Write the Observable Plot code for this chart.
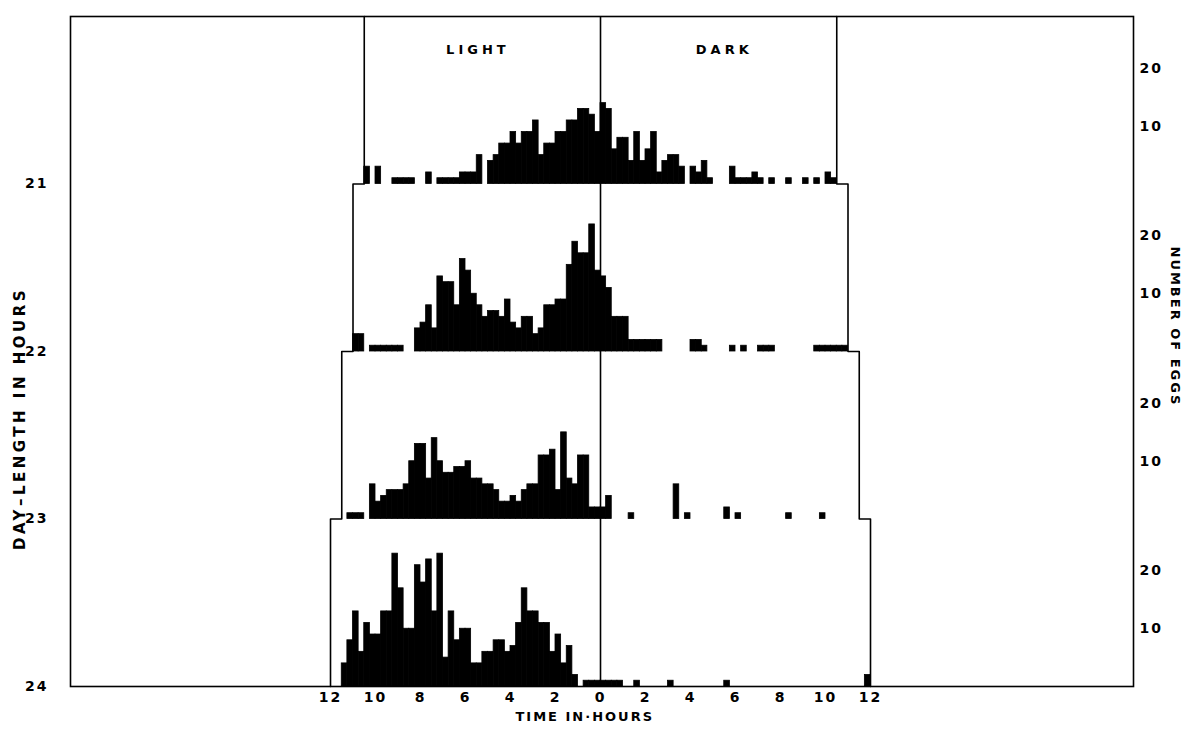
<!DOCTYPE html>
<html>
<head>
<meta charset="utf-8">
<script src="https://cdn.jsdelivr.net/npm/d3@7"></script>
<script src="https://cdn.jsdelivr.net/npm/@observablehq/plot@0.6"></script>
<style>
  html, body { margin: 0; padding: 0; background: #fff; }
  #chart svg { display: block; }
</style>
</head>
<body>
<div id="chart"></div>
<script>
// Day lengths (hours) of the four light–dark cycles; one histogram per cycle
const dayLengths = [21, 22, 23, 24];

// Eggs laid per 15-minute interval, from 12 h before lights-off (index 0)
// to 12 h after lights-off (index 95)
const eggs21 = [
  0,0,0,0,0,0,  3,0,3,0,0,1,  1,1,1,0,0,2,  0,1,1,1,1,2,
  2,2,5,0,4,5,  7,7,9,7,9,9,  11,5,7,7,9,9,  11,11,13,13,12,9,
  14,13,6,8,8,4,  9,4,6,9,2,4,  5,5,3,0,3,2,  4,1,0,0,0,3,
  1,1,1,2,1,0,  1,0,0,1,0,0,  1,0,1,0,2,1,  0,0,0,0,0,0
];
const eggs22 = [
  0,0,0,0,3,3,  0,1,1,1,1,1,  1,0,0,4,5,8,  4,13,12,12,8,16,
  14,10,8,6,7,7,  6,9,5,4,6,6,  3,4,8,8,9,9,  15,19,17,17,22,14,
  13,11,6,6,6,2,  2,2,2,2,2,0,  0,0,0,0,2,2,  1,0,0,0,0,1,
  0,1,0,0,1,1,  1,0,0,0,0,0,  0,0,1,1,1,1,  1,1,0,0,0,0
];
const eggs23 = [
  0,0,0,1,1,1,  0,6,3,4,5,5,  5,6,10,13,13,7,  14,10,8,8,9,9,
  10,7,7,6,6,5,  3,3,4,3,5,6,  6,11,11,12,5,15,  7,6,11,11,2,2,
  2,4,0,0,0,1,  0,0,0,0,0,0,  0,6,0,1,0,0,  0,0,0,0,2,0,
  1,0,0,0,0,0,  0,0,0,1,0,0,  0,0,0,1,0,0,  0,0,0,0,0,0
];
const eggs24 = [
  0,0,4,8,13,6,  11,9,9,13,13,23,  17,10,10,21,18,22,  13,23,5,13,8,10,
  10,4,4,6,6,8,  8,6,7,11,17,13,  13,11,11,6,9,4,  7,2,0,1,1,1,
  1,1,1,1,0,0,  1,0,0,0,0,0,  1,0,0,0,0,0,  0,0,0,0,1,0,
  0,0,0,0,0,0,  0,0,0,0,0,0,  0,0,0,0,0,0,  0,0,0,0,0,2
];

const startHour = -12;          // first interval starts 12 h before lights-off
const binHours = 0.25;          // 15-minute intervals
const eggUnit = 1 / 29;         // share of one panel's height taken by one egg
const eggTicks = [10, 20];      // number-of-eggs labels on the right
const hourTicks = [-12, -10, -8, -6, -4, -2, 0, 2, 4, 6, 8, 10, 12];

const series = [eggs21, eggs22, eggs23, eggs24];

// One rectangle per non-empty interval, standing on its day-length baseline
const bins = dayLengths.flatMap((day, k) =>
  series[k]
    .map((eggs, i) => ({
      day,
      t0: startHour + i * binHours,
      t1: startHour + (i + 1) * binHours,
      eggs
    }))
    .filter(d => d.eggs > 0)
);

// Staircase outline: light starts at -day/2 and dark ends at +day/2
const stairs = ["light", "dark"].flatMap(side =>
  dayLengths.flatMap(day => {
    const x = (side === "light" ? -1 : 1) * day / 2;
    return [{side, x, y: day - 1}, {side, x, y: day}];
  })
);

const eggLabels = dayLengths.flatMap(day => eggTicks.map(e => ({day, e})));

const font = "'DejaVu Sans', sans-serif";

const chart = Plot.plot({
  width: 1189,
  height: 732,
  marginLeft: 70,
  marginRight: 56,
  marginTop: 16,
  marginBottom: 46,
  x: {domain: [-23.556, 23.689]},
  y: {domain: [20, 24], reverse: true},
  style: {
    fontFamily: font,
    fontSize: "14px",
    fontWeight: "bold",
    letterSpacing: "2px",
    color: "black",
    background: "white"
  },
  marks: [
    Plot.rect(bins, {
      x1: "t0",
      x2: "t1",
      y1: "day",
      y2: d => d.day - d.eggs * eggUnit,
      fill: "black",
      stroke: "black",
      strokeWidth: 0.8
    }),
    Plot.line(stairs, {x: "x", y: "y", z: "side", stroke: "black", strokeWidth: 1.6}),
    Plot.ruleX([0], {y1: 20, y2: 24, stroke: "black", strokeWidth: 1.6}),
    Plot.frame({stroke: "black", strokeWidth: 1.6}),
    Plot.axisX(hourTicks, {
      tickSize: 0,
      tickPadding: 6,
      tickFormat: d => String(Math.abs(d)),
      label: null
    }),
    Plot.axisY(dayLengths, {
      anchor: "left",
      tickSize: 0,
      tickPadding: 22,
      tickFormat: d => String(d),
      label: null
    }),
    Plot.text(eggLabels, {
      frameAnchor: "right",
      y: d => d.day - d.e * eggUnit,
      text: d => String(d.e),
      dx: 6,
      textAnchor: "start"
    }),
    Plot.text(["LIGHT"], {x: -5.45, frameAnchor: "top", dy: 28, fontSize: 13, className: "wide"}),
    Plot.text(["DARK"], {x: 5.5, frameAnchor: "top", dy: 28, fontSize: 13, className: "wide"}),
    Plot.text(["TIME IN·HOURS"], {x: -0.7, frameAnchor: "bottom", dy: 34, fontSize: 13}),
    Plot.text(["DAY–LENGTH IN HOURS"], {
      frameAnchor: "left", y: 22.4, dx: -50, rotate: -90, fontSize: 15,
      textAnchor: "middle", className: "wider"
    }),
    Plot.text(["NUMBER OF EGGS"], {
      frameAnchor: "right", y: 21.85, dx: 42, rotate: 90, fontSize: 13,
      textAnchor: "middle"
    })
  ]
});

// Looser letter spacing for the period labels and the day-length title
d3.select(chart).selectAll("g.wide text").style("letter-spacing", "4px");
d3.select(chart).selectAll("g.wider text").style("letter-spacing", "3.5px");

document.getElementById("chart").append(chart);
</script>
</body>
</html>
